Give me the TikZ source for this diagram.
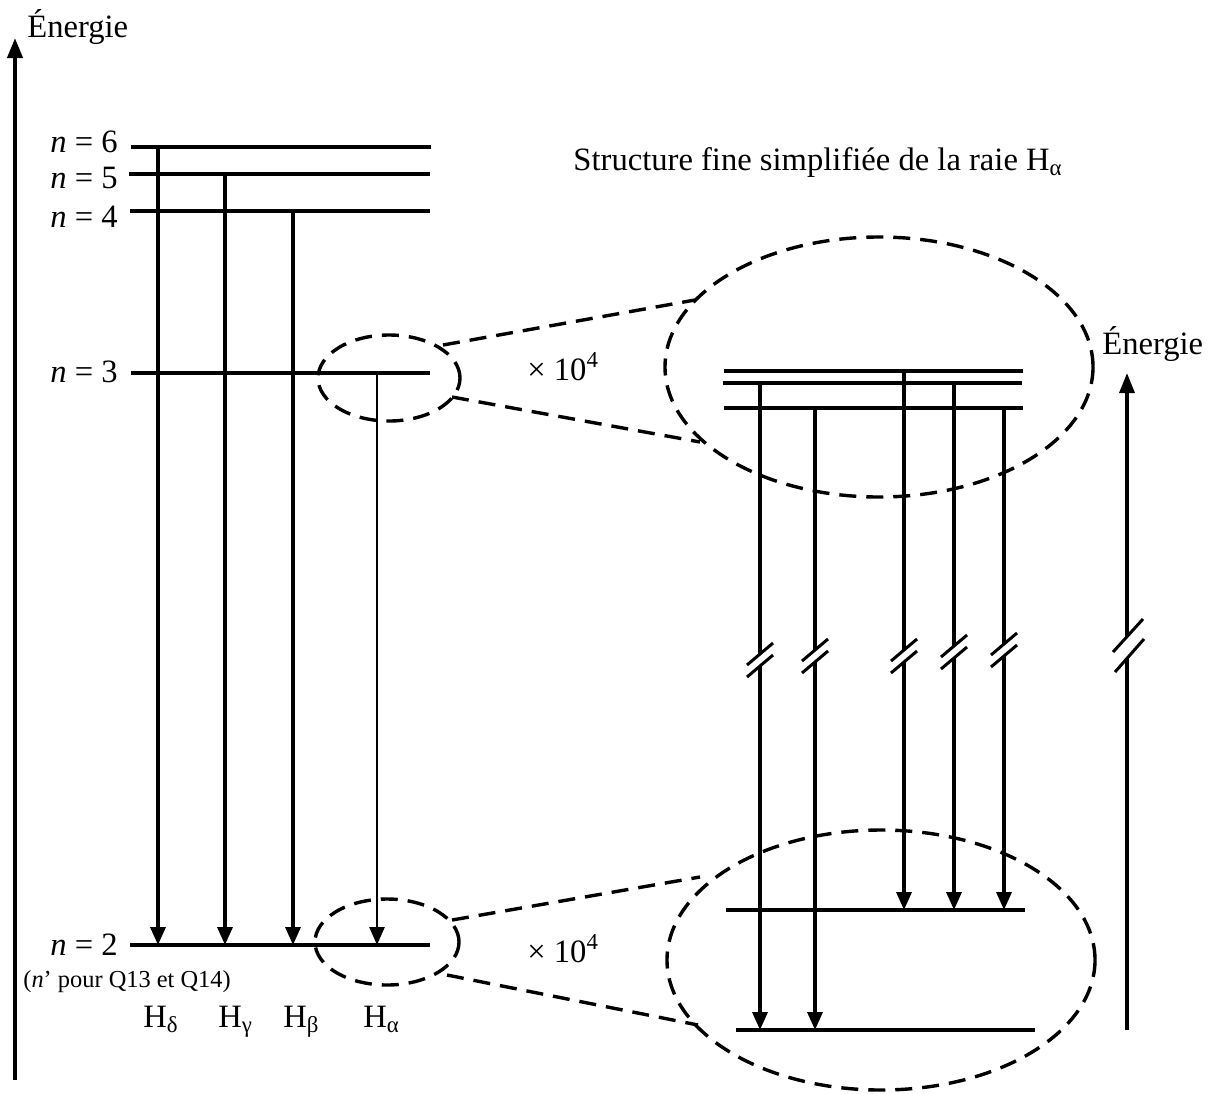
\documentclass[tikz,border=0pt]{standalone}
\usepackage{fontspec}
\setmainfont{Liberation Serif}
\usetikzlibrary{arrows.meta,shapes.geometric}
\begin{document}
\begin{tikzpicture}[x=0.5pt,y=-0.5pt,
  lvl/.style={line width=2.3pt},
  flvl/.style={line width=2pt},
  trans/.style={line width=1.7pt,-{Triangle[length=9pt,width=7.5pt]}},
  thintrans/.style={line width=1.35pt,-{Triangle[length=9pt,width=7.5pt]}},
  axis/.style={line width=2pt,-{Triangle[length=10pt,width=7.5pt]}},
  zoomc/.style={draw,ellipse,inner sep=0pt,line width=1.7pt,dash pattern=on 8.5pt off 5pt},
  zoomln/.style={line width=1.7pt,dash pattern=on 8.5pt off 5pt},
  lab/.style={font=\fontsize{16.3}{18}\selectfont,inner sep=0pt},
  small/.style={font=\fontsize{12.2}{14}\selectfont,inner sep=0pt},
  slash/.style={line width=1.5pt},
]
\useasboundingbox (0,0) rectangle (1214,1093);

% ---------- left energy axis ----------
\coordinate (ax0) at (15,1080);
\coordinate (ax1) at (15,38);
\draw[axis] (ax0) -- (ax1);
\node[lab,anchor=base west] (E1) at (27,37) {Énergie};

% ---------- left levels ----------
\coordinate (L6a) at (131,147); \coordinate (L6b) at (431,147);
\coordinate (L5a) at (129,174); \coordinate (L5b) at (430,174);
\coordinate (L4a) at (130,211); \coordinate (L4b) at (430,211);
\coordinate (L3a) at (131,373); \coordinate (L3b) at (430,373);
\coordinate (L2a) at (130,945); \coordinate (L2b) at (430,945);
\foreach \l in {6,5,4,3,2} {\draw[lvl] (L\l a) -- (L\l b);}

\node[lab,anchor=base east] (n6) at (118,152) {\textit{n} = 6};
\node[lab,anchor=base east] (n5) at (118,188) {\textit{n} = 5};
\node[lab,anchor=base east] (n4) at (118,227) {\textit{n} = 4};
\node[lab,anchor=base east] (n3) at (118,382) {\textit{n} = 3};
\node[lab,anchor=base east] (n2) at (118,955) {\textit{n} = 2};
\node[small,anchor=base west] (np) at (23,987) {(\textit{n}’ pour Q13 et Q14)};

% transitions
\coordinate (d6) at (158,147); \coordinate (d2) at (158,945);
\coordinate (g5) at (225,174); \coordinate (g2) at (225,945);
\coordinate (b4) at (293,211); \coordinate (b2) at (293,945);
\coordinate (a3) at (377,373); \coordinate (a2) at (377,945);
\draw[trans] (d6) -- (d2);
\draw[trans] (g5) -- (g2);
\draw[trans] (b4) -- (b2);
\draw[thintrans] (a3) -- (a2);

\node[lab,anchor=base west] (Hd) at (143,1027) {H\textsubscript{δ}};
\node[lab,anchor=base west] (Hg) at (218,1027) {H\textsubscript{γ}};
\node[lab,anchor=base west] (Hb) at (283,1027) {H\textsubscript{β}};
\node[lab,anchor=base west] (Ha) at (363,1027) {H\textsubscript{α}};

% ---------- zoom ellipses ----------
\node[zoomc,minimum width=71pt,minimum height=43pt] (zs3) at (389,378) {};
\node[zoomc,minimum width=72pt,minimum height=43pt] (zs2) at (387,942) {};
\node[zoomc,minimum width=214pt,minimum height=130pt] (zb3) at (879,367) {};
\node[zoomc,minimum width=214pt,minimum height=130pt] (zb2) at (881,960) {};

\coordinate (u1a) at (443,345); \coordinate (u1b) at (695,300);
\coordinate (u2a) at (452,397); \coordinate (u2b) at (700,442);
\coordinate (w1a) at (452,920); \coordinate (w1b) at (700,877);
\coordinate (w2a) at (447,975); \coordinate (w2b) at (698,1025);
\draw[zoomln] (u1a) -- (u1b);
\draw[zoomln] (u2a) -- (u2b);
\draw[zoomln] (w1a) -- (w1b);
\draw[zoomln] (w2a) -- (w2b);

\node[lab,anchor=base west] (x1) at (527,380) {× 10\textsuperscript{4}};
\node[lab,anchor=base west] (x2) at (527,962) {× 10\textsuperscript{4}};

\node[lab,anchor=base] (title) at (818,170) {Structure fine simplifiée de la raie H\textsubscript{α}};

% ---------- fine structure levels ----------
\coordinate (F1a) at (724,371); \coordinate (F1b) at (1023,371);
\coordinate (F2a) at (723,383); \coordinate (F2b) at (1022,383);
\coordinate (F3a) at (724,408); \coordinate (F3b) at (1023,408);
\coordinate (G1a) at (726,910); \coordinate (G1b) at (1025,910);
\coordinate (G2a) at (736,1030); \coordinate (G2b) at (1035,1030);
\draw[flvl] (F1a) -- (F1b);
\draw[flvl] (F2a) -- (F2b);
\draw[flvl] (F3a) -- (F3b);
\draw[flvl] (G1a) -- (G1b);
\draw[flvl] (G2a) -- (G2b);

\coordinate (t1s) at (760,383);  \coordinate (t1e) at (760,1030);
\coordinate (t2s) at (815,408);  \coordinate (t2e) at (815,1030);
\coordinate (t3s) at (904,371);  \coordinate (t3e) at (904,910);
\coordinate (t4s) at (954,383);  \coordinate (t4e) at (954,910);
\coordinate (t5s) at (1004,408); \coordinate (t5e) at (1004,910);
\foreach \t in {1,...,5} {\draw[trans] (t\t s) -- (t\t e);}

% break marks
\foreach \x/\y in {760/660,815/656,904/656,954/652,1004/650} {
  \fill[white] (\x-5,\y-2) -- (\x+5,\y-10) -- (\x+5,\y+2) -- (\x-5,\y+10) -- cycle;
  \draw[slash] (\x-13,\y+5) -- (\x+13,\y-17);
  \draw[slash] (\x-13,\y+17) -- (\x+13,\y-5);
}

% right energy axis
\coordinate (ar0) at (1127,1030);
\coordinate (ar1) at (1127,373);
\draw[axis,line width=1.7pt] (ar0) -- (ar1);
\fill[white] (1122,643) -- (1133,631) -- (1133,650) -- (1122,662) -- cycle;
\draw[slash] (1113,652) -- (1143,619);
\draw[slash] (1115,672) -- (1144,639);
\node[lab,anchor=base west] (E2) at (1102,354) {Énergie};
\end{tikzpicture}
\end{document}
